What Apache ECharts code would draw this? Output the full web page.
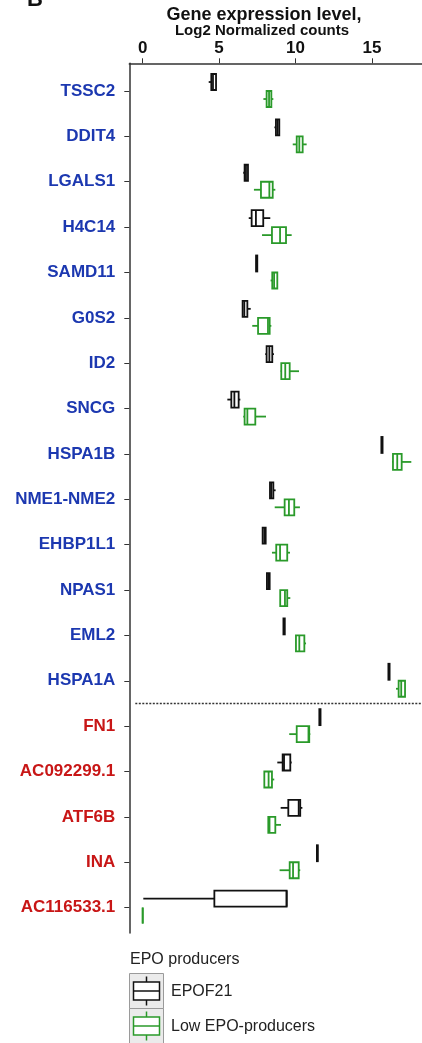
<!DOCTYPE html>
<html>
<head>
<meta charset="utf-8">
<script src="https://cdn.jsdelivr.net/npm/echarts@6/dist/echarts.min.js"></script>
<style>
  html, body { margin: 0; padding: 0; background: #fff; }
  #chart { width: 422px; height: 1043px; }
</style>
</head>
<body>
<div id="chart"></div>
<script>
// Genes, top to bottom
const genes = ['TSSC2', 'DDIT4', 'LGALS1', 'H4C14', 'SAMD11', 'G0S2', 'ID2', 'SNCG', 'HSPA1B',
  'NME1-NME2', 'EHBP1L1', 'NPAS1', 'EML2', 'HSPA1A', 'FN1', 'AC092299.1', 'ATF6B', 'INA', 'AC116533.1'];
// Number of genes in the upper (blue) group
const blueCount = 14;

// Box statistics per gene: [min, Q1, median, Q3, max] (log2 normalized counts)
const epof21 = [
  [4.32, 4.49, 4.60, 4.80, 4.80],
  [8.62, 8.72, 8.83, 8.94, 8.94],
  [6.58, 6.67, 6.76, 6.89, 6.89],
  [6.94, 7.13, 7.41, 7.89, 8.35],
  [7.42, 7.42, 7.46, 7.50, 7.50],
  [6.54, 6.54, 6.65, 6.85, 7.07],
  [8.02, 8.11, 8.29, 8.48, 8.59],
  [5.54, 5.80, 6.00, 6.28, 6.39],
  [15.62, 15.62, 15.66, 15.70, 15.70],
  [8.33, 8.33, 8.42, 8.55, 8.70],
  [7.85, 7.85, 7.96, 8.05, 8.05],
  [8.13, 8.13, 8.22, 8.31, 8.31],
  [9.21, 9.21, 9.25, 9.30, 9.30],
  [16.08, 16.08, 16.12, 16.16, 16.16],
  [11.56, 11.56, 11.60, 11.64, 11.64],
  [8.81, 9.16, 9.25, 9.66, 9.75],
  [9.03, 9.53, 10.21, 10.31, 10.45],
  [11.40, 11.40, 11.43, 11.46, 11.46],
  [0.04, 4.69, 9.42, 9.42, 9.42]
];
const lowEpo = [
  [7.90, 8.11, 8.27, 8.42, 8.55],
  [9.82, 10.08, 10.25, 10.47, 10.73],
  [7.28, 7.74, 8.29, 8.51, 8.68],
  [7.81, 8.46, 8.99, 9.38, 9.75],
  [8.37, 8.48, 8.60, 8.81, 8.81],
  [7.17, 7.55, 8.20, 8.31, 8.42],
  [9.03, 9.07, 9.33, 9.62, 10.23],
  [6.58, 6.67, 6.85, 7.37, 8.07],
  [16.32, 16.38, 16.66, 16.95, 17.58],
  [8.64, 9.29, 9.57, 9.92, 10.29],
  [8.46, 8.74, 8.99, 9.46, 9.64],
  [9.00, 9.00, 9.31, 9.46, 9.66],
  [10.03, 10.03, 10.25, 10.58, 10.69],
  [16.58, 16.75, 16.92, 17.17, 17.17],
  [9.59, 10.08, 10.85, 10.90, 10.97],
  [7.96, 7.96, 8.24, 8.46, 8.61],
  [8.22, 8.22, 8.30, 8.68, 9.05],
  [8.96, 9.62, 9.84, 10.21, 10.31],
  [0, 0, 0, 0, 0]
];
const xTicks = [0, 5, 10, 15];

const BLACK = '#111111';
const GREEN = '#2a9a2a';
const BLUE = '#1c38b0';
const RED = '#c81616';
const FONT = '"Liberation Sans", Arial, Helvetica, sans-serif';
const LW = 1.8;

const geneIdx = genes.map((g, i) => i);

function boxRenderer(color, dy) {
  return function (params, api) {
    const idx = api.value(0);
    const v = [1, 2, 3, 4, 5].map(k => api.value(k));
    const px = val => api.coord([val, idx])[0];
    const yc = api.coord([0, idx])[1] + dy;
    const h = 16;
    const style = { stroke: color, lineWidth: LW, fill: null };
    return {
      type: 'group',
      children: [
        { type: 'line', shape: { x1: px(v[0]), y1: yc, x2: px(v[1]), y2: yc }, style: style },
        { type: 'line', shape: { x1: px(v[3]), y1: yc, x2: px(v[4]), y2: yc }, style: style },
        { type: 'rect', shape: { x: px(v[1]), y: yc - h / 2, width: px(v[3]) - px(v[1]), height: h },
          style: { stroke: color, lineWidth: LW, fill: '#fff' } },
        { type: 'line', shape: { x1: px(v[2]), y1: yc - h / 2, x2: px(v[2]), y2: yc + h / 2 }, style: style }
      ]
    };
  };
}

const chart = echarts.init(document.getElementById('chart'), null, { renderer: 'canvas' });

// Legend key glyph: grey tile with a small box plot
function legendKey(y, color, label) {
  return [
    { type: 'rect', shape: { x: 129.5, y: y, width: 34, height: 35 },
      style: { fill: '#ebebeb', stroke: '#9a9a9a', lineWidth: 1 } },
    { type: 'line', shape: { x1: 146.5, y1: y + 3, x2: 146.5, y2: y + 32 }, style: { stroke: color, lineWidth: 1.5 } },
    { type: 'rect', shape: { x: 133.5, y: y + 8.5, width: 26, height: 18 },
      style: { fill: '#fff', stroke: color, lineWidth: 1.5 } },
    { type: 'line', shape: { x1: 133.5, y1: y + 17.5, x2: 159.5, y2: y + 17.5 }, style: { stroke: color, lineWidth: 1.5 } },
    { type: 'text', x: 171, y: y + 18.5,
      style: { text: label, font: '16px ' + FONT, fill: '#222', textVerticalAlign: 'middle' } }
  ];
}

chart.setOption({
  animation: false,
  grid: { left: 129.3, top: 63.3, right: 0, bottom: 110, containLabel: false },
  xAxis: {
    type: 'value',
    position: 'top',
    min: -0.877,
    max: 18.28,
    axisLine: { show: true, onZero: false, lineStyle: { color: '#333', width: 1.5 } },
    axisTick: { show: true, length: 5, customValues: xTicks, lineStyle: { color: '#333', width: 1 } },
    axisLabel: { customValues: xTicks, margin: 6, color: '#111',
      fontFamily: FONT, fontWeight: 'bold', fontSize: 17 },
    splitLine: { show: false }
  },
  yAxis: {
    type: 'value',
    inverse: true,
    min: -0.611,
    max: 18.56,
    axisLine: { show: true, onZero: false, lineStyle: { color: '#333', width: 1.5 } },
    axisTick: { show: true, length: 5, customValues: geneIdx, lineStyle: { color: '#333', width: 1 } },
    axisLabel: {
      customValues: geneIdx,
      margin: 14,
      formatter: function (val) {
        const i = Math.round(val);
        return (i < blueCount ? '{b|' : '{r|') + genes[i] + '}';
      },
      rich: {
        b: { color: BLUE, fontFamily: FONT, fontWeight: 'bold', fontSize: 17 },
        r: { color: RED, fontFamily: FONT, fontWeight: 'bold', fontSize: 17 }
      }
    },
    splitLine: { show: false }
  },
  series: [
    {
      name: 'EPOF21',
      type: 'custom',
      renderItem: boxRenderer(BLACK, -9),
      encode: { x: [1, 2, 3, 4, 5], y: 0 },
      data: epof21.map((d, i) => [i].concat(d)),
      z: 3
    },
    {
      name: 'Low EPO-producers',
      type: 'custom',
      renderItem: boxRenderer(GREEN, 8),
      encode: { x: [1, 2, 3, 4, 5], y: 0 },
      data: lowEpo.map((d, i) => [i].concat(d)),
      z: 3
    },
    {
      // dotted divider between the two gene groups
      name: 'divider',
      type: 'custom',
      renderItem: function (params, api) {
        const cs = params.coordSys;
        const y = api.coord([0, api.value(0)])[1];
        return { type: 'line', shape: { x1: cs.x + 6, y1: y, x2: cs.x + cs.width, y2: y },
          style: { stroke: '#333', lineWidth: 1.5, lineDash: [2, 1.5] } };
      },
      encode: { y: 0 },
      data: [[blueCount - 0.5]],
      silent: true,
      z: 2
    }
  ],
  graphic: [
    { type: 'text', x: 27, y: 11,
      style: { text: 'B', font: 'bold 22px ' + FONT, fill: '#111', textVerticalAlign: 'bottom' } },
    { type: 'text', x: 264, y: 15,
      style: { text: 'Gene expression level,', font: 'bold 18px ' + FONT, fill: '#111',
        textAlign: 'center', textVerticalAlign: 'middle' } },
    { type: 'text', x: 262, y: 30.5,
      style: { text: 'Log2 Normalized counts', font: 'bold 15px ' + FONT, fill: '#111',
        textAlign: 'center', textVerticalAlign: 'middle' } },
    { type: 'text', x: 130, y: 960,
      style: { text: 'EPO producers', font: '16px ' + FONT, fill: '#222', textVerticalAlign: 'middle' } }
  ].concat(legendKey(973.5, BLACK, 'EPOF21'), legendKey(1008.5, GREEN, 'Low EPO-producers'))
});
</script>
</body>
</html>
